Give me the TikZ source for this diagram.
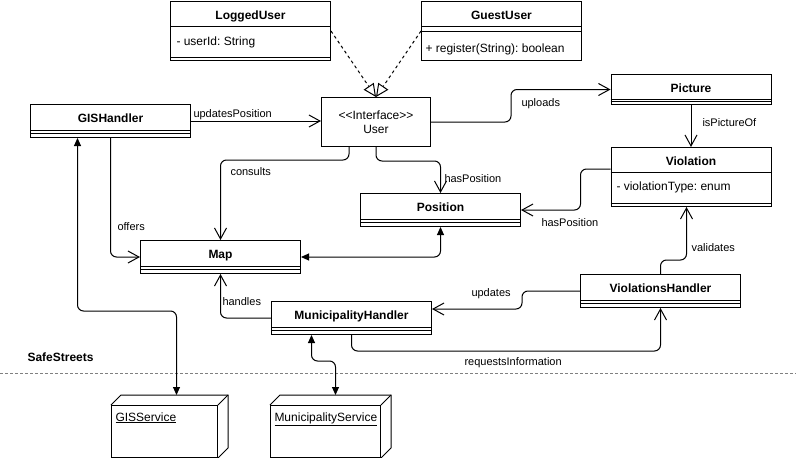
\documentclass[tikz,border=0pt]{standalone}
\usepackage{fontspec}
\setmainfont{Liberation Sans}
\usetikzlibrary{arrows.meta}
\frenchspacing

\tikzstyle{diagram}=[%
	x = 1pt, y = -1pt,
	every path/.style = {
		line width = 1pt
	},
	cls/.style = {
		draw, anchor = north west, inner sep = 0pt,
		minimum width = 160pt, minimum height = 33pt
	},
	service/.style = {
		draw, anchor = north west, inner sep = 0pt,
		minimum width = 106pt, minimum height = 52pt
	},
	title/.style = {anchor = base, inner sep = 0pt, font = \fontsize{12}{14}\selectfont\bfseries},
	attr/.style = {anchor = base west, inner sep = 0pt, font = \fontsize{12}{14}\selectfont},
	lbl/.style = {anchor = base west, inner sep = 0pt, font = \fontsize{11}{13}\selectfont},
	assoc/.style = {-{Straight Barb[length=11pt, width=12pt]}, rounded corners = 6pt},
	both/.style = {{Triangle[length=8pt, width=7pt]}-{Triangle[length=8pt, width=7pt]}, rounded corners = 6pt},
	real/.style = {dash pattern = on 3pt off 3pt, -{Triangle[open, length=13pt, width=12pt]}}
]

\begin{document}
\begin{tikzpicture}[diagram]
	\useasboundingbox (0,0) rectangle (796,458);

	% Classes
	\node[cls, minimum height=59pt] (logged) at (170,1) {};
	\node[cls, minimum height=59pt] (guest) at (421,1) {};
	\node[cls] (gis) at (30,104) {};
	\node[cls] (map) at (140,240) {};
	\node[cls] (pos) at (360,193) {};
	\node[cls] (vh) at (580,274) {};
	\node[cls] (mh) at (271,301) {};
	\node[cls, minimum height=30pt] (pic) at (610.5,74) {};
	\node[cls, minimum height=59pt] (viol) at (610.5,147) {};
	\node[cls, minimum width=109pt, minimum height=49pt, align=center,
		font=\fontsize{12}{14}\selectfont] (user) at (321,97)
		{<\kern0pt<Interface>\kern0pt>\\User};

	% % Titles, compartments
	\foreach \n/\txt/\a/\b in {gis/GISHandler/26/29, map/Map/26/29, pos/Position/26/29,
		vh/ViolationsHandler/26/29, mh/MunicipalityHandler/26/29, pic/Picture/25/27,
		logged/LoggedUser/25/56, guest/GuestUser/25/30, viol/Violation/25/56} {
		\node[title] (\n-title) at ([yshift=-18.5pt]\n.north) {\txt};
		\draw (\n.north west) ++(0,\a) -- ++(160,0);
		\draw (\n.north west) ++(0,\b) -- ++(160,0);
	}
	\node[attr] (logged-attr) at ([shift={(6,44)}]logged.north west) {- userId: String};
	\node[attr] (guest-op) at ([shift={(4,51)}]guest.north west) {+ register(String): boolean};
	\node[attr] (viol-attr) at ([shift={(5.5,43)}]viol.north west) {- violationType: enum};

	% % External services
	\node[service] (gisS) at (111,405) {};
	\node[service, minimum width=110pt] (munS) at (270,405) {};
	\foreach \n in {gisS, munS} {
		\draw (\n.north west) -- ++(10,-10) -| ([shift={(10,-10)}]\n.south east) -- (\n.south east);
		\draw (\n.north east) -- ++(10,-10);
	}
	\node[attr] (gisS-name) at ([shift={(4,16)}]gisS.north west) {\underline{GISService}};
	\node[attr] (munS-name) at ([shift={(4,16)}]munS.north west) {\underline{MunicipalityService}};
	\coordinate (gisTop) at ([shift={(12,-10)}]gisS.north);
	\coordinate (munTop) at ([shift={(10,-10)}]munS.north);

	% System boundary
	\draw[gray, line width=0.8pt, dash pattern=on 3pt off 2pt] (0,373) -- (796,373);
	\node[attr, font=\fontsize{12}{14}\selectfont\bfseries] (system) at (27,361) {SafeStreets};

	% % Connectors
	\draw[real] (logged.east) -- (user.north);
	\draw[real] (guest.west) -- (user.north);

	\draw[assoc] (gis.east) -- (gis.east -| user.west);
	\draw[assoc] (gis.south) |- (map.west);
	\draw[assoc] ([xshift=-27pt]user.south) -- ++(0,13) -| (map.north);
	\draw[assoc] (user.south) -- ++(0,14) -| (pos.north);
	\draw[assoc] (user.east) -- ++(80,0) |- (pic.west);
	\draw[assoc] (pic.south) -- (viol.north);
	\draw[assoc] ([yshift=8pt]viol.west) -- ++(-30,0) |- (pos.east);
	\draw[assoc] (vh.north) -- ++(0,-14) -| ([xshift=-4.5pt]viol.south);
	\draw[assoc] (vh.west) -- ++(-58,0) |- ([yshift=9pt]mh.east);
	\draw[assoc] (mh.west) -| (map.south);
	\draw[assoc] (mh.south) -- ++(0,16) -| (vh.south);

	\draw[both] (map.east) -| (pos.south);
	\draw[both] ([xshift=-33pt]gis.south) -- ++(0,173) -| (gisTop);
	\draw[both] ([xshift=-40pt]mh.south) -- ++(0,26) -| (munTop);

	% % Labels
	\foreach \x/\y/\txt [count=\i] in {193/117/updatesPosition, 230/175/consults,
		117/230/offers, 444/182/hasPosition, 521/106/uploads, 702/126/isPictureOf,
		541/226/hasPosition, 691/251/validates, 471/296/updates, 222/305/handles,
		464/365/requestsInformation} {
		\node[lbl] (lbl\i) at (\x,\y) {\txt};
	}

\end{tikzpicture}
\end{document}
